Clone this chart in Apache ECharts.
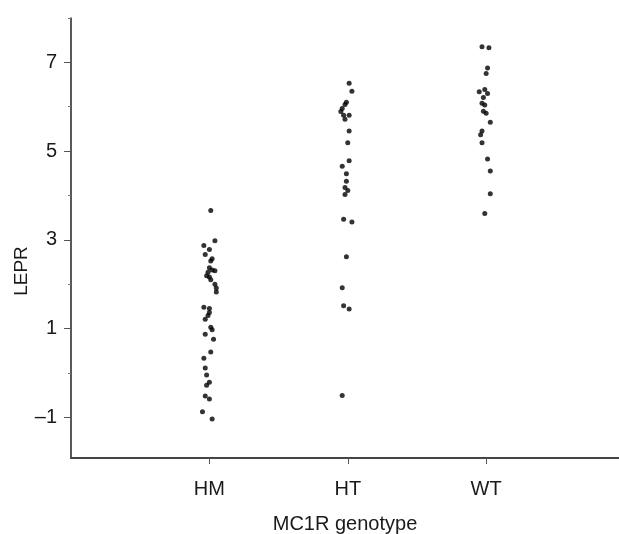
<!DOCTYPE html>
<html>
<head>
<meta charset="utf-8">
<script src="https://cdn.jsdelivr.net/npm/echarts@6/dist/echarts.min.js"></script>
<style>
  html, body { margin: 0; padding: 0; background: #fff; }
  #chart { width: 619px; height: 534px; }
</style>
</head>
<body>
<div id="chart"></div>
<script>
// genotype groups (x positions 1, 2, 3)
var genotypes = ['HM', 'HT', 'WT'];

// LEPR values, with the horizontal jitter of each dot
var hmLEPR = [3.66, 2.98, 2.87, 2.78, 2.67, 2.57, 2.52, 2.37, 2.32, 2.27, 2.30, 2.19,
  2.16, 2.10, 2.00, 1.91, 1.82, 1.48, 1.45, 1.36, 1.29, 1.21, 1.03, 0.97, 0.87, 0.76,
  0.47, 0.33, 0.11, -0.05, -0.21, -0.28, -0.52, -0.59, -0.88, -1.04];
var hmJitter = [0.01, 0.04, -0.04, 0.00, -0.03, 0.02, 0.01, 0.00, 0.02, -0.01, 0.04, -0.02,
  0.00, 0.01, 0.04, 0.05, 0.05, -0.04, 0.00, 0.00, -0.01, -0.03, 0.01, 0.02, -0.03, 0.03,
  0.01, -0.04, -0.03, -0.02, 0.00, -0.02, -0.03, 0.00, -0.05, 0.02];

var htLEPR = [6.53, 6.35, 6.10, 6.05, 5.96, 5.89, 5.81, 5.81, 5.72, 5.45, 5.19, 4.78,
  4.66, 4.49, 4.32, 4.18, 4.11, 4.02, 3.46, 3.40, 2.62, 1.92, 1.51, 1.44, -0.51];
var htJitter = [0.01, 0.03, -0.01, -0.02, -0.04, -0.05, -0.03, 0.01, -0.02, 0.01, 0.00, 0.01,
  -0.04, -0.01, -0.01, -0.02, 0.00, -0.02, -0.03, 0.03, -0.01, -0.04, -0.03, 0.01, -0.04];

var wtLEPR = [7.35, 7.33, 6.87, 6.75, 6.34, 6.39, 6.30, 6.21, 6.08, 6.04, 5.90, 5.85,
  5.65, 5.45, 5.37, 5.19, 4.82, 4.55, 4.04, 3.59];
var wtJitter = [-0.03, 0.02, 0.01, 0.00, -0.05, -0.01, 0.01, -0.02, -0.03, -0.01, -0.02, 0.00,
  0.03, -0.03, -0.04, -0.03, 0.01, 0.03, 0.03, -0.01];

var yLabelTicks = [-1, 1, 3, 5, 7];
var yMinorTicks = [0, 2, 4, 6, 8];

function toPoints(group, vals, jit) {
  var pts = [];
  for (var i = 0; i < vals.length; i++) {
    pts.push([group + jit[i], vals[i]]);
  }
  return pts;
}

var allPoints = []
  .concat(toPoints(1, hmLEPR, hmJitter))
  .concat(toPoints(2, htLEPR, htJitter))
  .concat(toPoints(3, wtLEPR, wtJitter));

var font = 'Liberation Sans, Arial, Helvetica, sans-serif';
var myChart = echarts.init(document.getElementById('chart'));

var option = {
  animation: false,
  grid: { left: 71, right: 0, top: 18, bottom: 76, outerBoundsMode: 'none', containLabel: false },
  xAxis: {
    type: 'value',
    min: 0,
    max: 3.96,
    name: 'MC1R genotype',
    nameLocation: 'middle',
    nameGap: 56,
    nameTextStyle: { fontFamily: font, fontSize: 20, color: '#1a1a1a' },
    splitLine: { show: false },
    axisLine: { show: true, onZero: false, lineStyle: { color: '#444', width: 2 } },
    axisTick: { show: true, customValues: [1, 2, 3], length: 6, lineStyle: { color: '#555' } },
    axisLabel: {
      customValues: [1, 2, 3],
      margin: 21,
      fontFamily: font, fontSize: 20, color: '#1a1a1a',
      formatter: function (v) { return genotypes[Math.round(v) - 1]; }
    }
  },
  yAxis: [{
    type: 'value',
    min: -1.92,
    max: 8,
    splitLine: { show: false },
    axisLine: { show: true, onZero: false, lineStyle: { color: '#222', width: 1.5 } },
    axisTick: { show: true, customValues: yLabelTicks, length: 7, lineStyle: { color: '#555' } },
    axisLabel: {
      customValues: yLabelTicks,
      margin: 14,
      fontFamily: font, fontSize: 20, color: '#1a1a1a',
      formatter: function (v) { return v < 0 ? '\u2013' + Math.abs(v) : String(v); }
    }
  }, {
    type: 'value',
    min: -1.92,
    max: 8,
    position: 'left',
    splitLine: { show: false },
    axisLine: { show: false },
    axisLabel: { show: false },
    axisTick: { show: true, customValues: yMinorTicks, length: 3, lineStyle: { color: '#777' } }
  }],
  graphic: [{
    type: 'text',
    x: 22, y: 271,
    rotation: Math.PI / 2,
    style: {
      text: 'LEPR',
      font: '19px ' + font,
      fill: '#1a1a1a',
      align: 'center',
      verticalAlign: 'middle'
    }
  }],
  series: [{
    type: 'scatter',
    yAxisIndex: 0,
    symbolSize: 5,
    itemStyle: { color: '#000' },
    data: allPoints
  }]
};

myChart.setOption(option);
</script>
</body>
</html>
